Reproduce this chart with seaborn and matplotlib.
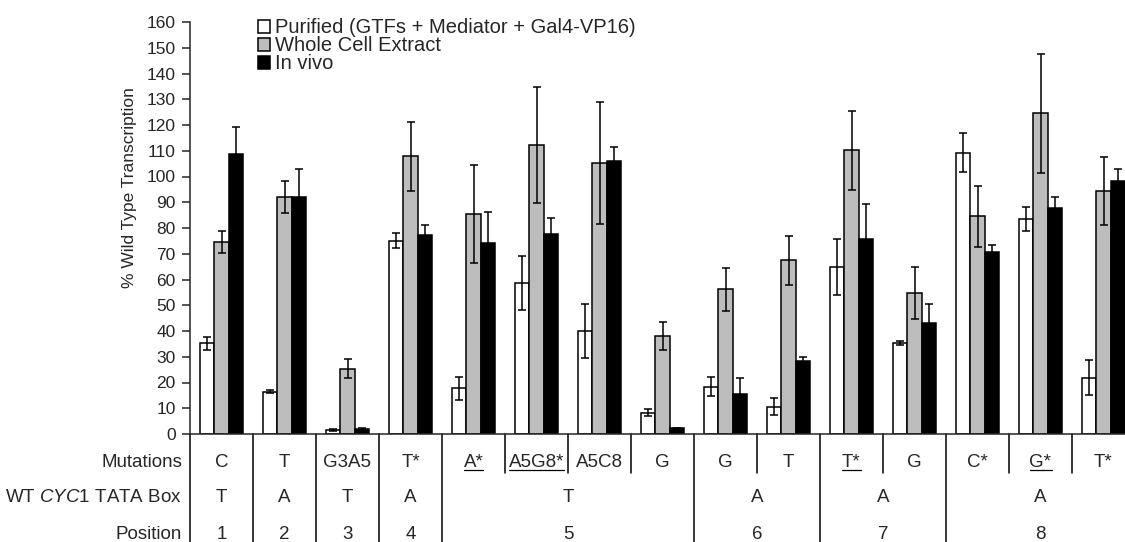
import numpy as np
import pandas as pd
import matplotlib.pyplot as plt
import seaborn as sns

# Data
mutations = ["C", "T", "G3A5", "T*", "A*", "A5G8*", "A5C8", "G",
             "G", "T", "T*", "G", "C*", "G*", "T*"]
underlined = [4, 5, 10, 13]
tata_box = ["T", "A", "T", "A", "T", "A", "A", "A"]
positions = ["1", "2", "3", "4", "5", "6", "7", "8"]
pos_sizes = [1, 1, 1, 1, 4, 2, 2, 3]

series = ["Purified (GTFs + Mediator + Gal4-VP16)", "Whole Cell Extract", "In vivo"]
purified = [35.2, 16.5, 1.5, 75.1, 17.8, 58.6, 40.0, 8.3, 18.4, 10.6, 64.8, 35.5, 109.3, 83.6, 21.9]
purified_err = [2.5, 0.5, 0.3, 2.9, 4.5, 10.6, 10.5, 1.4, 3.6, 3.3, 10.9, 0.8, 7.6, 4.7, 6.9]
wce = [74.5, 92.0, 25.4, 107.8, 85.4, 112.3, 105.2, 38.1, 56.2, 67.4, 110.1, 54.7, 84.5, 124.6, 94.4]
wce_err = [4.3, 6.3, 3.6, 13.3, 19.0, 22.6, 23.6, 5.5, 8.4, 9.6, 15.2, 10.1, 11.9, 23.1, 13.1]
invivo = [108.8, 92.0, 1.8, 77.2, 74.0, 77.6, 106.0, 2.2, 15.5, 28.4, 75.7, 43.3, 70.6, 87.9, 98.1]
invivo_err = [10.6, 11.0, 0.4, 4.0, 12.2, 6.2, 5.4, 0.3, 6.1, 1.4, 13.7, 7.1, 2.9, 4.1, 4.8]

n = len(mutations)
df = pd.DataFrame({
    "group": np.tile(np.arange(n), 3),
    "series": np.repeat(series, n),
    "value": purified + wce + invivo,
})

sns.set_style("ticks")
plt.rcParams["font.family"] = ["Liberation Sans", "DejaVu Sans"]
plt.rcParams["mathtext.fontset"] = "custom"
plt.rcParams["mathtext.rm"] = "Liberation Sans"
plt.rcParams["mathtext.it"] = "Liberation Sans:italic"

fig = plt.figure(figsize=(11.25, 5.42), dpi=100)
ax = fig.add_axes([190 / 1125, 108 / 542, 935 / 1125, 412 / 542])

sns.barplot(data=df, x="group", y="value", hue="series", hue_order=series,
            palette=["white", "#bdbdbd", "black"], saturation=1,
            edgecolor="black", linewidth=1.1, width=0.68, gap=0,
            errorbar=None, ax=ax)

# error bars on top of the seaborn bars
for cont, vals, errs in zip(ax.containers, [purified, wce, invivo],
                            [purified_err, wce_err, invivo_err]):
    xs = [p.get_x() + p.get_width() / 2 for p in cont]
    ax.errorbar(xs, vals, yerr=errs, fmt="none", ecolor="black",
                elinewidth=1.1, capsize=2.9, capthick=1.1, zorder=5)

ax.set_xlim(-0.5, -0.5 + 935 / 63)
ax.set_ylim(0, 160)
ax.set_yticks(range(0, 161, 10))
ax.set_xticks([])
ax.set_xlabel("")
sns.despine(ax=ax)
for s in ["left", "bottom"]:
    ax.spines[s].set_linewidth(1.1)
ax.tick_params(axis="y", labelsize=12.5, length=5.8, width=1.1, pad=4.5)

ax.set_ylabel("% Wild Type Transcription", fontsize=12.5)
ax.yaxis.set_label_coords(-0.057, 0.597)

ax.legend(loc="upper left", bbox_to_anchor=(0.0727, 1.009), frameon=False,
          fontsize=14.5, handlelength=0.6, handleheight=0.6,
          handletextpad=0.25, labelspacing=-0.05, borderpad=0, borderaxespad=0)

# table under the axis
tr = ax.get_xaxis_transform()
y_mut, y_tata, y_pos = -0.068, -0.153, -0.243
mut_texts = []
for i, m in enumerate(mutations):
    t = ax.text(i, y_mut, m, ha="center", va="center", transform=tr, fontsize=13.5)
    mut_texts.append(t)

starts = np.cumsum([0] + pos_sizes[:-1])
for st, sz, b, p in zip(starts, pos_sizes, tata_box, positions):
    c = st + (sz - 1) / 2
    ax.text(c, y_tata, b, ha="center", va="center", transform=tr, fontsize=13.5)
    ax.text(c, y_pos, p, ha="center", va="center", transform=tr, fontsize=13.5)

for y, lab in [(y_mut, "Mutations"), (y_tata, r"WT $\mathit{CYC1}$ TATA Box"),
               (y_pos, "Position")]:
    ax.text(-0.0086, y, lab, ha="right", va="center", transform=ax.transAxes, fontsize=13.5)

full = [st - 0.5 for st in starts]
short = [b - 0.5 for b in range(1, n) if b not in starts]
for b in full:
    ax.plot([b, b], [0, -0.27], transform=tr, clip_on=False, color="black", lw=1.1)
for b in short:
    ax.plot([b, b], [0, -0.095], transform=tr, clip_on=False, color="black", lw=1.1)

# underline some mutation labels
fig.canvas.draw()
inv = ax.transData.inverted()
for i in underlined:
    bb = mut_texts[i].get_window_extent()
    x0 = inv.transform((bb.x0, 0))[0]
    x1 = inv.transform((bb.x1, 0))[0]
    ax.plot([x0, x1], [-0.088, -0.088], transform=tr, clip_on=False,
            color="black", lw=0.9)

fig.savefig("out.png", dpi=100)
